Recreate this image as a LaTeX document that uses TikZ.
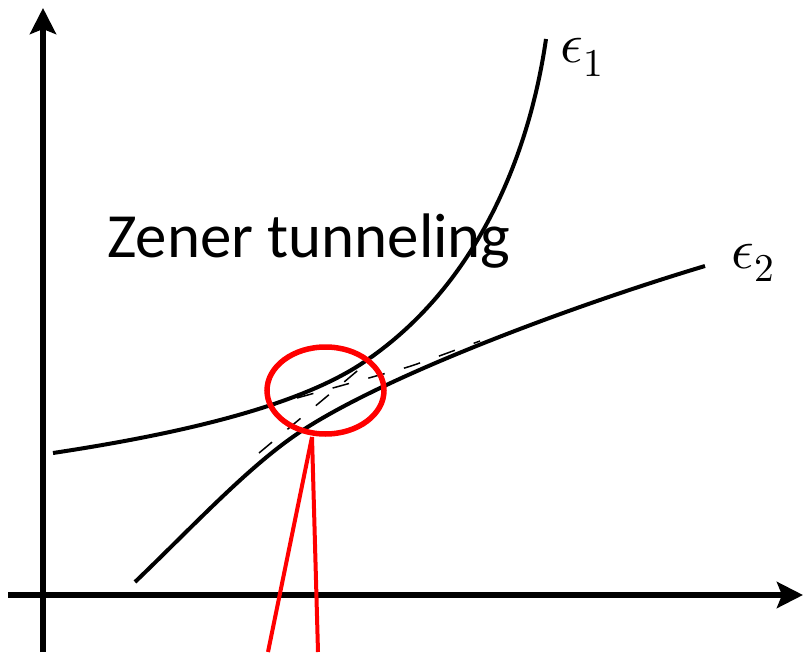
\documentclass[tikz,border=0pt]{standalone}
\usepackage{fontspec}
\usepackage{unicode-math}
\setmainfont{Carlito}
\usetikzlibrary{arrows.meta,positioning}

\begin{document}
\begin{tikzpicture}[
  axis/.style={line width=0.12cm, -{Stealth[length=0.52cm, width=0.52cm, inset=0.1cm]}},
  band/.style={line width=0.08cm},
  diab/.style={line width=0.03cm, dash pattern=on 0.34cm off 0.4cm},
  redring/.style={red, line width=0.11cm},
  redline/.style={red, line width=0.08cm},
  lbl/.style={inner sep=0pt, anchor=base west}
]
\useasboundingbox (0,0) rectangle (16.08,13.04);

% axes
\draw[axis] (0.86,0) -- (0.86,12.88);
\draw[axis] (0.16,1.14) -- (16.06,1.14);

% adiabatic bands
\draw[band] (1.06,3.98) .. controls (3.5,4.35) and (6.0,4.9) .. (7.34,5.84)
  .. controls (9.4,7.25) and (10.55,9.7) .. (10.92,12.26);
\draw[band] (2.7,1.40) .. controls (3.9,2.55) and (5.0,3.75) .. (6.06,4.44)
  .. controls (7.8,5.57) and (11.5,6.94) .. (14.1,7.72);

% diabatic crossing
\draw[diab] (5.18,3.98) .. controls (7.0,5.5) and (8.0,6.3) .. (8.9,7.24);
\draw[diab] plot[smooth] coordinates {(5.94,5.08) (6.8,5.32) (7.52,5.52) (8.28,5.74) (9.6,6.22)};

% labels
\node[lbl, font=\fontsize{35.8}{42}\selectfont] (zener) at (2.14,7.88) {Zener tunneling};
\node[lbl, font=\fontsize{32}{36}\selectfont] (eps1) at (11.2,11.78) {$\epsilon_1$};
\node[lbl, font=\fontsize{32}{36}\selectfont] (eps2) at (14.62,7.68) {$\epsilon_2$};

% zoom marker
\coordinate (ringc) at (6.51,5.23);
\draw[redring] (ringc) ellipse [x radius=1.17cm, y radius=0.87cm];
\coordinate (ringfoot) at (6.24,4.30);
\coordinate (footl) at (5.36,0);
\coordinate (footr) at (6.36,0);
\draw[redline] (ringfoot) -- (footl);
\draw[redline] (ringfoot) -- (footr);
\end{tikzpicture}
\end{document}
